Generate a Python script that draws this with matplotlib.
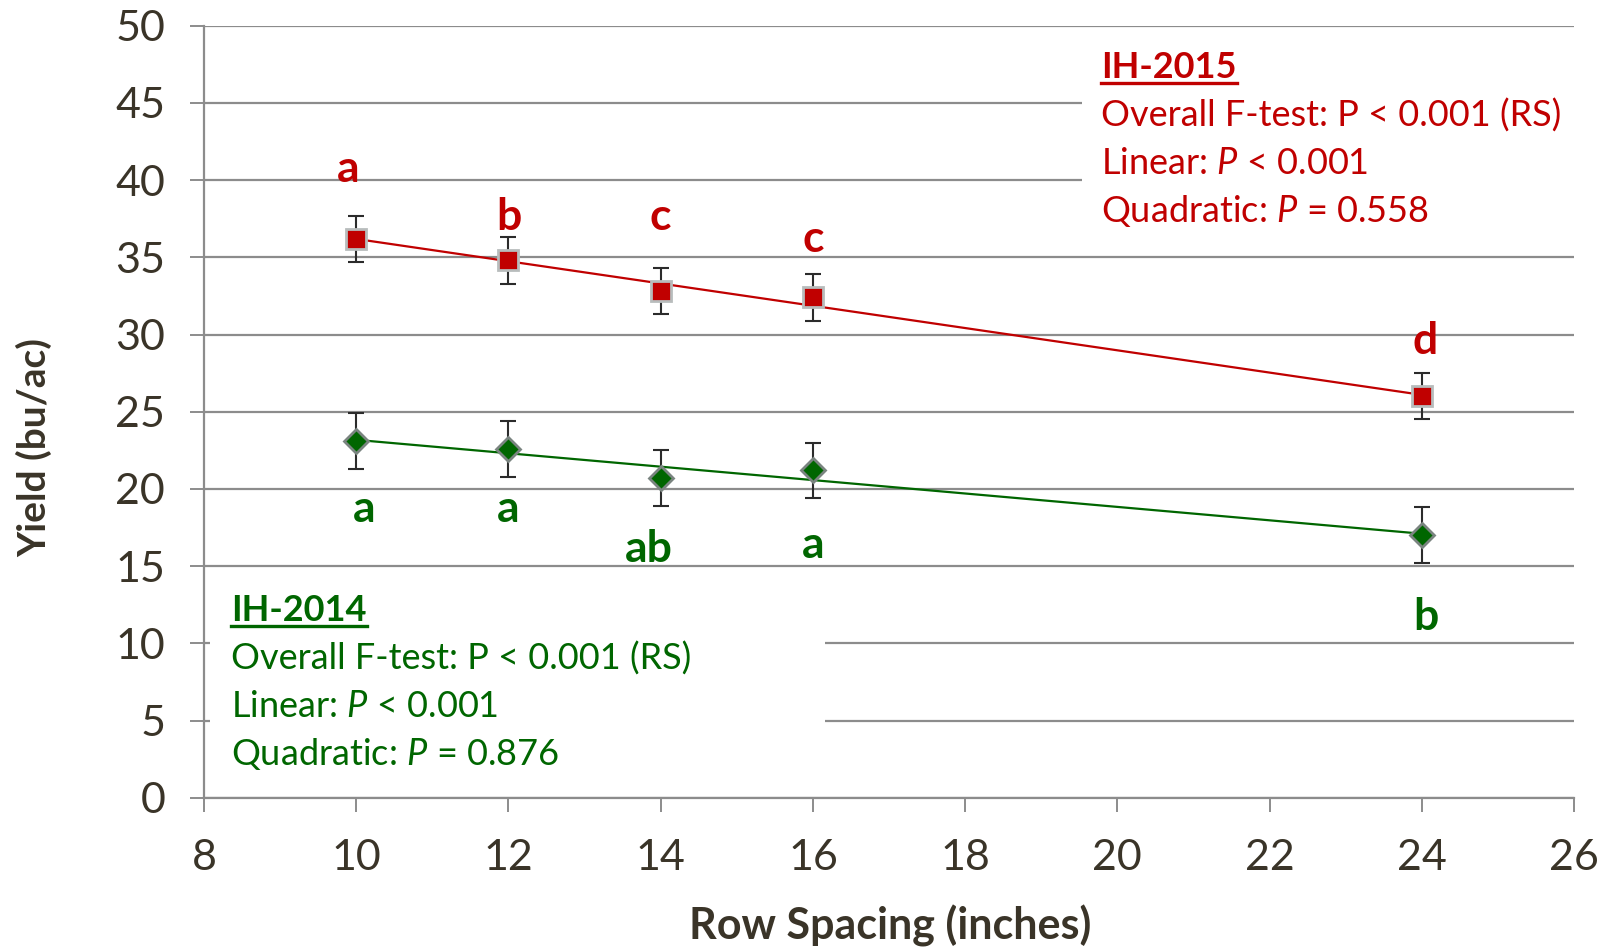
import numpy as np
import matplotlib
matplotlib.use("Agg")
import matplotlib.pyplot as plt
from matplotlib.patches import Rectangle
from matplotlib.lines import Line2D

plt.rcParams['font.family'] = ['Lato', 'DejaVu Sans']
plt.rcParams['mathtext.fontset'] = 'custom'
plt.rcParams['mathtext.rm'] = 'Lato'
plt.rcParams['mathtext.it'] = 'Lato:italic'

# ---- data ----
row_spacing = [10, 12, 14, 16, 24]
yield_2015 = [36.2, 34.8, 32.8, 32.4, 26.0]
err_2015 = [1.5, 1.5, 1.5, 1.5, 1.5]
yield_2014 = [23.1, 22.6, 20.7, 21.2, 17.0]
err_2014 = [1.8, 1.8, 1.8, 1.8, 1.8]
letters_2015 = ['a', 'b', 'c', 'c', 'd']
letters_2014 = ['a', 'a', 'ab', 'a', 'b']
letter_y_2015 = [40.7, 37.6, 37.6, 36.2, 29.6]
letter_y_2014 = [18.7, 18.7, 16.1, 16.4, 11.7]
letter_dx_2015 = [-0.1, 0.0, 0.0, 0.0, 0.05]
letter_dx_2014 = [0.1, 0.0, -0.15, 0.0, 0.05]
xticks = [8, 10, 12, 14, 16, 18, 20, 22, 24, 26]
yticks = [0, 5, 10, 15, 20, 25, 30, 35, 40, 45, 50]

RED = '#C00000'
GREEN = '#006600'
DARK = '#3a3428'
GRID = '#8c8c8c'

fig = plt.figure(figsize=(16.04, 9.5), dpi=100)
ax = fig.add_axes([0.1272, 0.1603, 0.9813 - 0.1272, 0.9729 - 0.1603])
ax.set_xlim(8, 26)
ax.set_ylim(0, 50)
ax.set_xticks(xticks)
ax.set_yticks(yticks)
ax.yaxis.grid(True, color=GRID, linewidth=1.6, zorder=0)
ax.set_axisbelow(True)
for s in ['top', 'right']:
    ax.spines[s].set_visible(False)
for s in ['left', 'bottom']:
    ax.spines[s].set_color(GRID)
    ax.spines[s].set_linewidth(1.6)
ax.tick_params(axis='both', direction='out', length=10, width=1.4, color=GRID,
               labelsize=31, labelcolor=DARK)
ax.tick_params(axis='y', pad=18)
ax.tick_params(axis='x', pad=20)

# white boxes interrupting gridlines
ax.add_patch(Rectangle((19.53, 36.1), 26 - 19.53, 49.0 - 36.1, facecolor='white',
                       edgecolor='none', zorder=1))
ax.add_patch(Rectangle((8.08, 0.7), 16.16 - 8.08, 13.6 - 0.7, facecolor='white',
                       edgecolor='none', zorder=1))

x = np.array(row_spacing, dtype=float)
# regression lines
for yv, col in [(yield_2015, RED), (yield_2014, GREEN)]:
    c = np.polyfit(x, yv, 1)
    xs = np.array([x.min(), x.max()])
    ax.plot(xs, np.polyval(c, xs), color=col, linewidth=1.6, zorder=3)

ax.errorbar(x, yield_2015, yerr=err_2015, fmt='none', ecolor='#2b2b2b',
            elinewidth=1.5, capsize=6, capthick=1.5, zorder=4)
ax.errorbar(x, yield_2014, yerr=err_2014, fmt='none', ecolor='#2b2b2b',
            elinewidth=1.5, capsize=6, capthick=1.5, zorder=4)
ax.plot(x, yield_2015, linestyle='none', marker='s', markersize=15,
        markerfacecolor=RED, markeredgecolor='#b8bcbc', markeredgewidth=2, zorder=5)
ax.plot(x, yield_2014, linestyle='none', marker='D', markersize=12.5,
        markerfacecolor=GREEN, markeredgecolor='#7a8480', markeredgewidth=2, zorder=5)

for xi, t, ly, dx in zip(row_spacing, letters_2015, letter_y_2015, letter_dx_2015):
    ax.text(xi + dx, ly, t, color=RED, fontsize=32, fontweight='bold',
            ha='center', va='center', zorder=6)
for xi, t, ly, dx in zip(row_spacing, letters_2014, letter_y_2014, letter_dx_2014):
    ax.text(xi + dx, ly, t, color=GREEN, fontsize=32, fontweight='bold',
            ha='center', va='center', zorder=6)

# annotation blocks
def block(x0, ys, col, title, lines):
    t = ax.text(x0, ys[0], title, color=col, fontsize=26, fontweight='bold',
                ha='left', va='center', zorder=6)
    for yy, s in zip(ys[1:], lines):
        ax.text(x0, yy, s, color=col, fontsize=26, ha='left', va='center', zorder=6)
    return t

t15 = block(19.79, [47.3, 44.2, 41.1, 38.0], RED, 'IH-2015',
            ['Overall F-test: P < 0.001 (RS)', 'Linear: $P$ < 0.001', 'Quadratic: $P$ = 0.558'])
t14 = block(8.36, [12.1, 9.0, 5.9, 2.8], GREEN, 'IH-2014',
            ['Overall F-test: P < 0.001 (RS)', 'Linear: $P$ < 0.001', 'Quadratic: $P$ = 0.876'])

fig.text(0.555, 0.025, 'Row Spacing (inches)', fontsize=31, fontweight='bold', color=DARK,
         ha='center', va='center')
fig.text(0.021, 0.529, 'Yield (bu/ac)', fontsize=28, fontweight='bold', color=DARK,
         ha='center', va='center', rotation=90)

# underline titles
fig.canvas.draw()
renderer = fig.canvas.get_renderer()
inv = fig.transFigure.inverted()
for t, col in [(t15, RED), (t14, GREEN)]:
    bb = t.get_window_extent(renderer)
    (x0, y0), (x1, y1) = inv.transform([[bb.x0, bb.y0], [bb.x1, bb.y1]])
    yline = y0 + 0.001
    fig.add_artist(Line2D([x0, x1], [yline, yline], transform=fig.transFigure,
                          color=col, linewidth=2.4))

fig.savefig('out.png', dpi=100)
